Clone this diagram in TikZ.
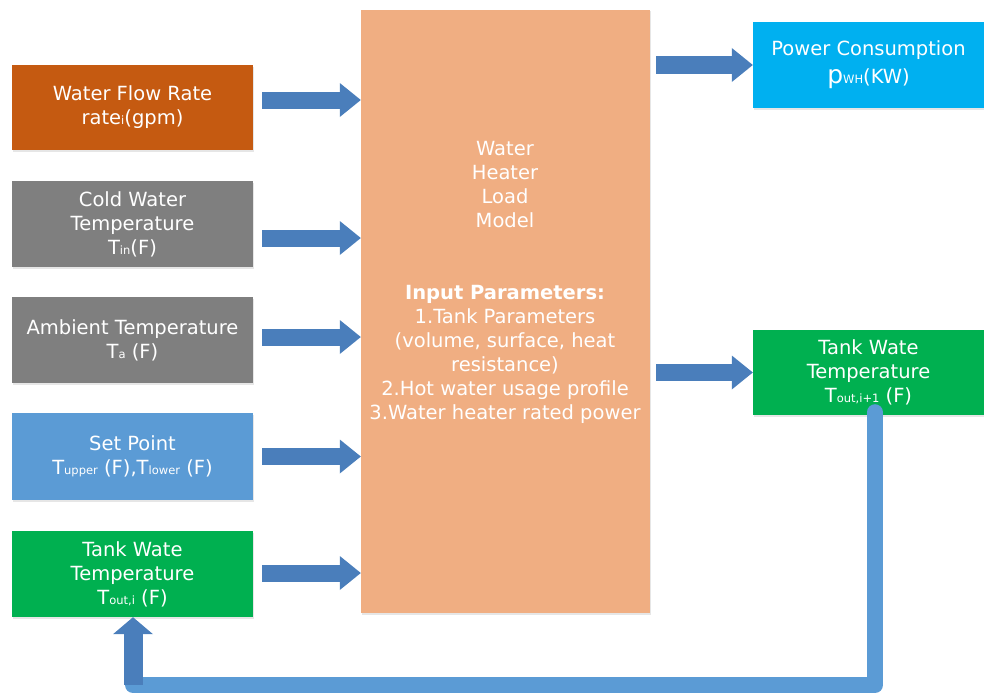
\documentclass[tikz,border=0pt]{standalone}
\usepackage{fontspec}
\setmainfont{DejaVu Sans}
\usetikzlibrary{arrows.meta,shadows}
\definecolor{flowc}{HTML}{C55A11}
\definecolor{grayc}{HTML}{7F7F7F}
\definecolor{setc}{HTML}{5B9BD5}
\definecolor{greenc}{HTML}{00B050}
\definecolor{modelc}{HTML}{F0AE82}
\definecolor{powerc}{HTML}{00B0F0}
\definecolor{arrowc}{HTML}{4A7EBB}
\definecolor{loopc}{HTML}{5B9BD5}
% small inline index letters, set on the baseline
\newcommand{\lowtxt}[1]{{\fontsize{11.5}{11.5}\selectfont #1}}
\begin{document}
\begin{tikzpicture}[x=1pt,y=-1pt,
  box/.style={draw=none, minimum width=241pt, minimum height=86pt, inner sep=2pt,
    align=center, text=white, font=\fontsize{19.5}{24}\selectfont,
    drop shadow={shadow xshift=1pt, shadow yshift=-1.5pt, opacity=0.2}},
  outbox/.style={box, minimum width=231pt},
  blockarrow/.style={draw=arrowc, line width=17pt,
    -{Triangle[length=21pt, width=34pt, line width=0pt]}},
]
\useasboundingbox (0,0) rectangle (984,693);

% input blocks
\node[box, fill=flowc,  minimum height=85pt] (flow) at (132.5,107.5) {Water Flow Rate\\rate\lowtxt{i}(gpm)};
\node[box, fill=grayc]  (cold) at (132.5,224) {Cold Water\\Temperature\\T\lowtxt{in}(F)};
\node[box, fill=grayc]  (amb)  at (132.5,340) {Ambient Temperature\\T\lowtxt{a} (F)};
\node[box, fill=setc, minimum height=87pt] (setp) at (132.5,456.5) {Set Point\\T\lowtxt{upper} (F),T\lowtxt{lower} (F)};
\node[box, fill=greenc] (tin)  at (132.5,574) {Tank Wate\\Temperature\\T\lowtxt{out,i} (F)};

% model block
\node[box, fill=modelc, minimum width=289pt, minimum height=603pt] (model) at (505.5,311.5) {};
\node[align=center, text=white, font=\fontsize{19.5}{24}\selectfont] (modeltext) at (505,282)
  {Water\\Heater\\Load\\Model\\[48pt]\textbf{Input Parameters:}\\1.Tank Parameters\\(volume, surface, heat\\resistance)\\2.Hot water usage profile\\3.Water heater rated power};

% output blocks
\node[outbox, fill=powerc] (power) at (868.5,65) {Power Consumption\\[4pt]{\fontsize{25}{24}\selectfont p}\lowtxt{WH}(KW)};
\node[outbox, fill=greenc, minimum height=85pt] (tout) at (868.5,372.5) {Tank Wate\\Temperature\\T\lowtxt{out,i+1} (F)};

% input arrows
\draw[blockarrow] ([shift={(9,-7.5)}]flow.east) coordinate (a1) -- (a1 -| model.west);
\draw[blockarrow] ([shift={(9,14)}]cold.east)   coordinate (a2) -- (a2 -| model.west);
\draw[blockarrow] ([shift={(9,-3)}]amb.east)    coordinate (a3) -- (a3 -| model.west);
\draw[blockarrow] ([shift={(9,0)}]setp.east)    coordinate (a4) -- (a4 -| model.west);
\draw[blockarrow] ([shift={(9,-1)}]tin.east)    coordinate (a5) -- (a5 -| model.west);

% output arrows
\draw[blockarrow] ([xshift=6pt]model.east |- power.west) -- (power.west);
\draw[blockarrow] ([xshift=6pt]model.east |- tout.west) -- (tout.west);

% feedback loop
\coordinate (fbr) at ([shift={(6.5,-3)}]tout.south);
\coordinate (fbl) at ([shift={(0.5,68)}]tin.south);
\draw[loopc, line width=16pt, line cap=round, line join=round]
  (fbr) -- (fbr |- 0,685) -- (fbl |- 0,685);
\draw[draw=arrowc, line width=19pt, -{Triangle[length=17pt, width=40pt, line width=0pt]}]
  (fbl) -- ([xshift=0.5pt]tin.south);
\end{tikzpicture}
\end{document}
